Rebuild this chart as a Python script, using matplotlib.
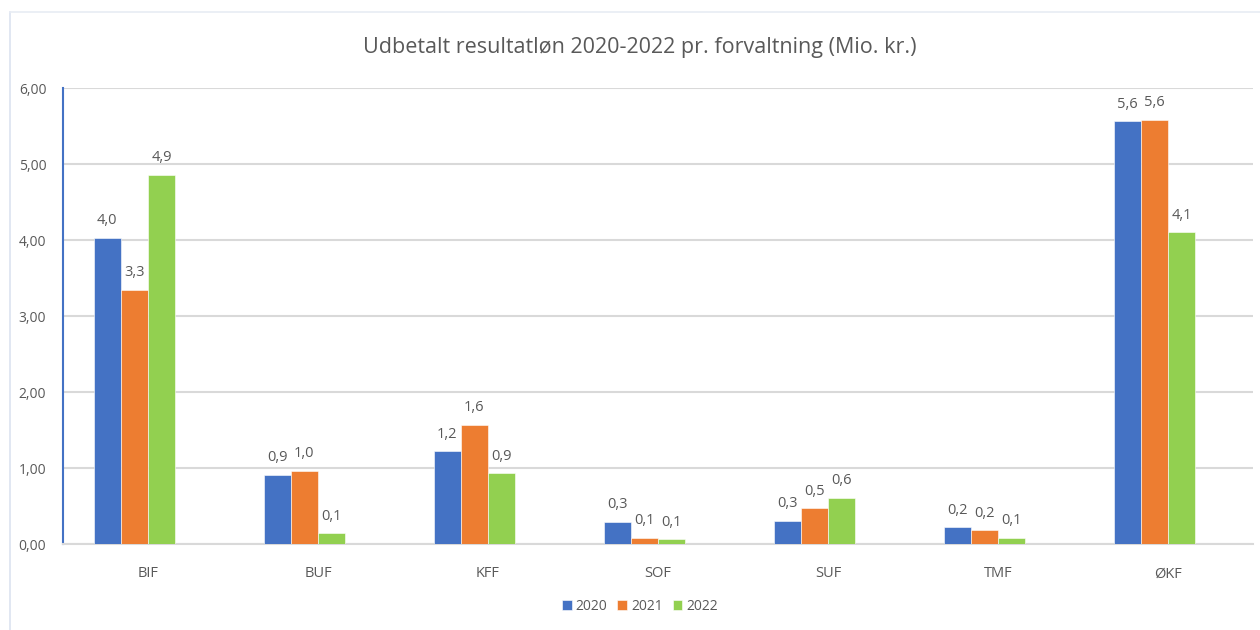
#!/usr/bin/env python3

"""
Udbetalt resultatløn 2020-2022 pr. forvaltning, grouped bar chart.
"""

import matplotlib
matplotlib.use("Agg")
import matplotlib.pyplot as plt
import numpy as np
from matplotlib.lines import Line2D
from matplotlib.ticker import FuncFormatter

# --------------------------------- DATA --------------------------------------
categories = ["BIF", "BUF", "KFF", "SOF", "SUF", "TMF", "ØKF"]
years = ["2020", "2021", "2022"]
values_2020 = [4.03, 0.91, 1.22, 0.29, 0.30, 0.22, 5.56]
values_2021 = [3.34, 0.96, 1.57, 0.08, 0.47, 0.18, 5.58]
values_2022 = [4.86, 0.14, 0.93, 0.06, 0.61, 0.08, 4.10]
y_ticks = [0, 1, 2, 3, 4, 5, 6]
title = "Udbetalt resultatløn 2020-2022 pr. forvaltning (Mio. kr.)"
# --------------------------------- DATA --------------------------------------

colors = ["#4472C4", "#ED7D31", "#92D050"]
text_color = "#595959"
grid_color = "#D9D9D9"

plt.rcParams["font.family"] = ["Open Sans", "DejaVu Sans"]

fig = plt.figure(figsize=(12.6, 6.3), dpi=100)
ax = fig.add_axes([63 / 1260, 1 - 544 / 630, (1253 - 63) / 1260, (544 - 88) / 630])

# faint outer chart border (left and top edges visible)
fig.add_artist(Line2D([10 / 1260, 10 / 1260], [0, 1 - 12 / 630],
                      transform=fig.transFigure, color="#DCE3F0", lw=1.2))
fig.add_artist(Line2D([10 / 1260, 1], [1 - 12 / 630, 1 - 12 / 630],
                      transform=fig.transFigure, color="#E8ECF4", lw=1.2))

x = np.arange(len(categories))
width = 0.16
series = [values_2020, values_2021, values_2022]

# the groups sit as if a fourth (empty) series followed, so they are shifted
# half a bar to the left of the category tick
for i, (vals, year, color) in enumerate(zip(series, years, colors)):
    bars = ax.bar(x + (i - 1.5) * width, vals, width, color=color, label=year,
                  edgecolor="white", linewidth=0.4, zorder=3)
    for bar, v in zip(bars, vals):
        ax.annotate(f"{v:.1f}".replace(".", ","),
                    (bar.get_x() + bar.get_width() / 2, bar.get_height()),
                    xytext=(0, 7), textcoords="offset points",
                    ha="center", va="bottom", fontsize=10.5, color=text_color)

ax.set_xlim(-0.5, len(categories) - 0.5)
ax.set_ylim(0, 6)
ax.set_yticks(y_ticks)
ax.yaxis.set_major_formatter(FuncFormatter(lambda v, _: f"{v:.2f}".replace(".", ",")))
ax.set_xticks(x)
ax.set_xticklabels(categories)
ax.tick_params(axis="both", length=0, colors=text_color, labelsize=10)
ax.tick_params(axis="x", pad=16, labelsize=10.5)
ax.tick_params(axis="y", pad=12)

ax.grid(axis="y", color=grid_color, linewidth=1.5, zorder=0)
for side in ["top", "right"]:
    ax.spines[side].set_visible(False)
ax.spines["bottom"].set_color(grid_color)
ax.spines["bottom"].set_linewidth(1.5)
ax.spines["left"].set_color("#4472C4")
ax.spines["left"].set_linewidth(1.5)

fig.text(640 / 1260, 1 - 47 / 630, title, ha="center", va="center",
         fontsize=15.5, color=text_color)

fig.legend(loc="center", bbox_to_anchor=(640 / 1260, 1 - 606 / 630), ncol=3,
           frameon=False, fontsize=10, labelcolor=text_color,
           handlelength=0.7, handleheight=0.7, handletextpad=0.3,
           columnspacing=0.7)

fig.savefig("out.png", dpi=100)
